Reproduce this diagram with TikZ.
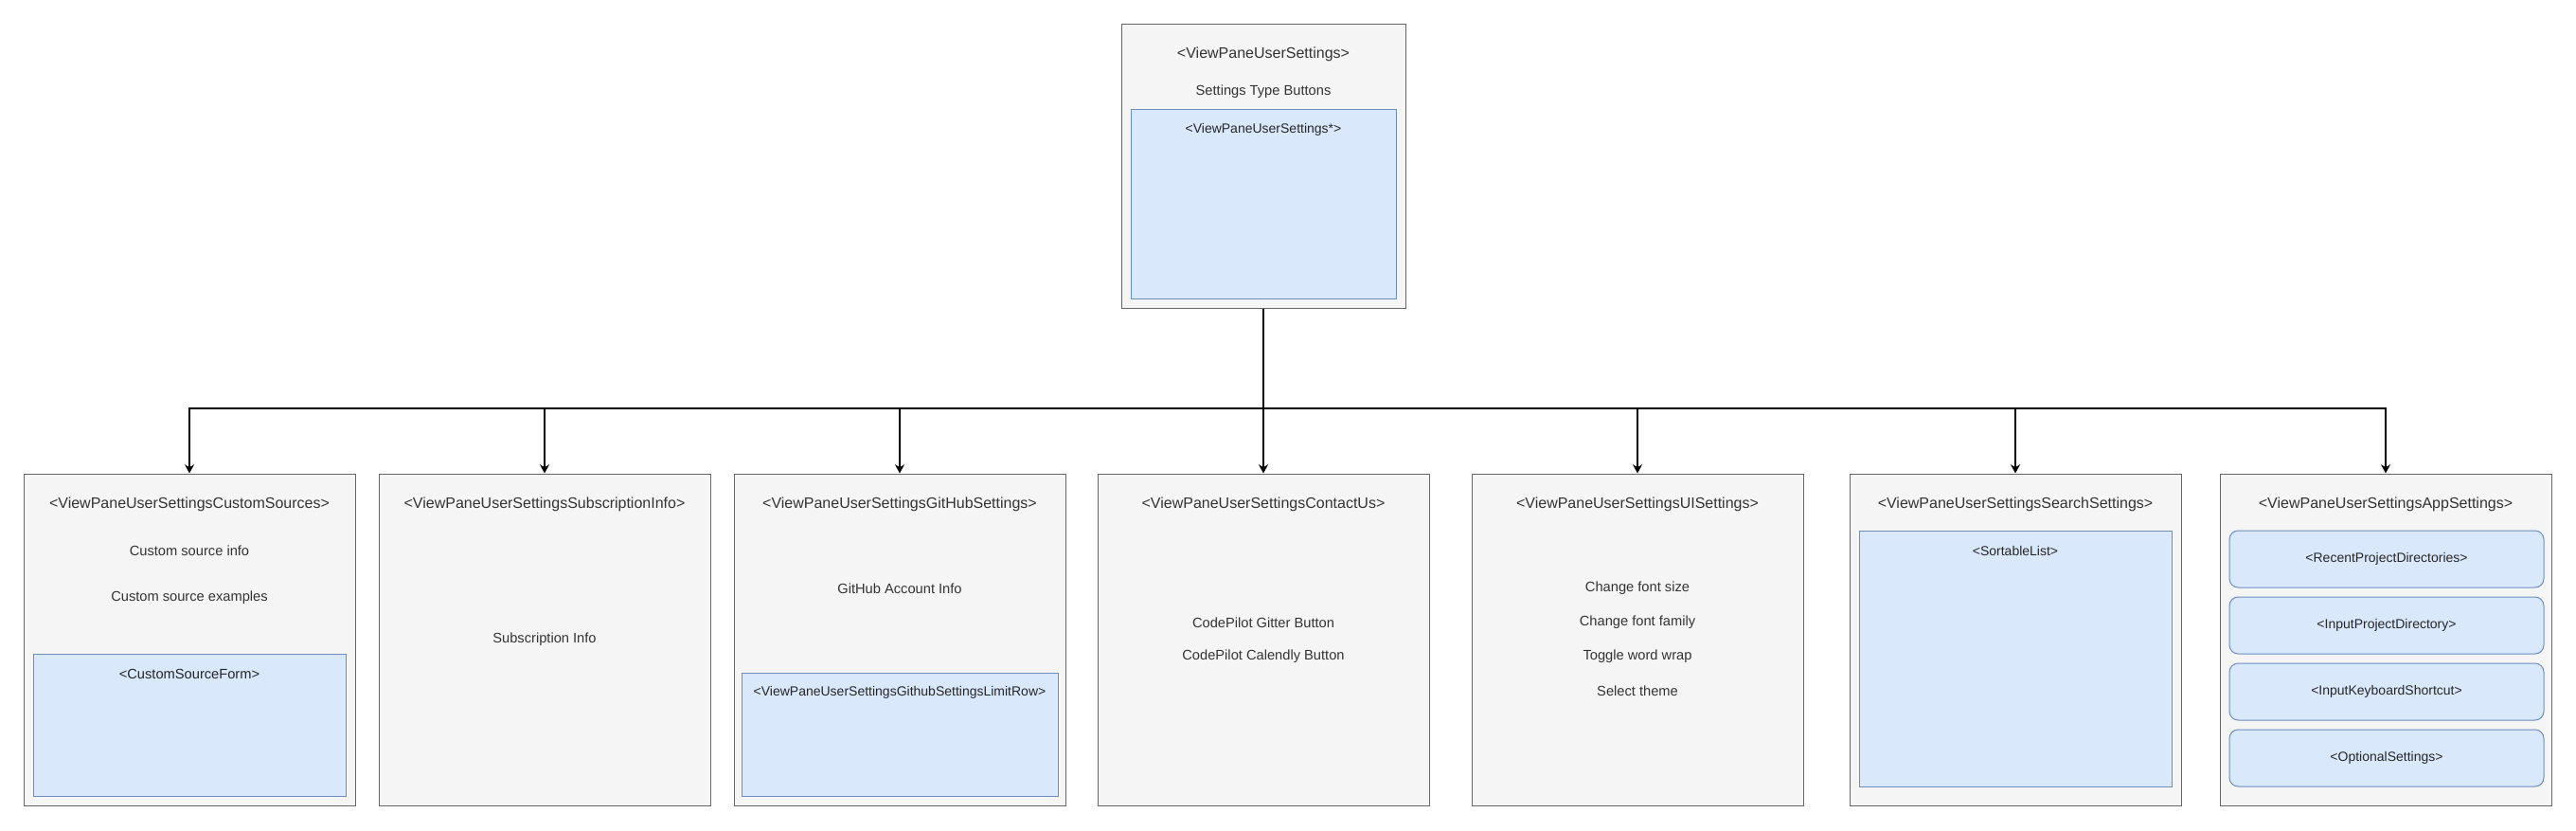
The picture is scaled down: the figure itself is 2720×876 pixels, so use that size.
\documentclass[tikz,border=0pt]{standalone}
\usepackage{fontspec}
\setmainfont{Liberation Sans}
\usetikzlibrary{positioning,arrows.meta}
\definecolor{paneFill}{HTML}{F5F5F5}
\definecolor{paneLine}{HTML}{666666}
\definecolor{paneText}{HTML}{333333}
\definecolor{partFill}{HTML}{DAE8FC}
\definecolor{partLine}{HTML}{6C8EBF}

\begin{document}
\begin{tikzpicture}[x=0.75pt,y=-0.75pt,
  pane/.style={draw=paneLine,fill=paneFill,line width=0.75pt,inner sep=0pt,minimum width=262.5pt,minimum height=262.5pt},
  part/.style={draw=partLine,fill=partFill,line width=0.75pt,inner sep=0pt},
  row/.style={part,rounded corners=7pt,minimum width=249pt,minimum height=45pt},
  headtxt/.style={text=paneText,font=\fontsize{12}{14}\selectfont,inner sep=0pt},
  itemtxt/.style={text=paneText,font=\fontsize{11}{13}\selectfont,inner sep=0pt},
  parttxt/.style={text=black!85,font=\fontsize{10.5}{12}\selectfont,inner sep=0pt},
  link/.style={line width=1.2pt,-{Stealth[length=7pt,width=7.5pt]}}]
\useasboundingbox (0,0) rectangle (2720,876);
% Top pane
\node[pane,minimum width=225pt,minimum height=225pt] (top) at (1334,175) {};
\node[part,minimum width=210pt,minimum height=150pt] (topPart) at (1334,215) {};
\node[headtxt] (topHead) at (1334,57) {<ViewPaneUserSettings>};
\node[itemtxt] (topItem) at (1334,97) {Settings Type Buttons};
\node[parttxt] (topPartTxt) at (1334,137) {<ViewPaneUserSettings*>};
% Child panes
\node[pane] (custom) at (200,675) {};
\node[pane] (subscr) at (575,675) {};
\node[pane] (github) at (950,675) {};
\node[pane] (contact) at (1334,675) {};
\node[pane] (ui) at (1729,675) {};
\node[pane] (search) at (2128,675) {};
\node[pane] (app) at (2519,675) {};
% Custom sources
\node[headtxt] (customHead) at (200,532) {<ViewPaneUserSettingsCustomSources>};
\node[itemtxt] (customInfo) at (200,581) {Custom source info};
\node[itemtxt] (customEx) at (200,631) {Custom source examples};
\node[part,minimum width=247.5pt,minimum height=112.5pt] (customForm) at (200,765) {};
\node[parttxt,font=\fontsize{11}{13}\selectfont] (customFormTxt) at (200,711) {<CustomSourceForm>};
% Subscription info
\node[headtxt] (subscrHead) at (575,532) {<ViewPaneUserSettingsSubscriptionInfo>};
\node[itemtxt] (subscrInfo) at (575,675) {Subscription Info};
% GitHub settings
\node[headtxt] (githubHead) at (950,532) {<ViewPaneUserSettingsGitHubSettings>};
\node[itemtxt] (githubInfo) at (950,621) {GitHub Account Info};
\node[part,minimum width=250.5pt,minimum height=97.5pt] (githubRow) at (950,775) {};
\node[parttxt] (githubRowTxt) at (950,731) {<ViewPaneUserSettingsGithubSettingsLimitRow>};
% Contact us
\node[headtxt] (contactHead) at (1334,532) {<ViewPaneUserSettingsContactUs>};
\node[itemtxt] (contactGitter) at (1334,657) {CodePilot Gitter Button};
\node[itemtxt] (contactCal) at (1334,693) {CodePilot Calendly Button};
% UI settings
\node[headtxt] (uiHead) at (1729,532) {<ViewPaneUserSettingsUISettings>};
\node[itemtxt] (uiSize) at (1729,621) {Change font size};
\node[itemtxt] (uiFamily) at (1729,657) {Change font family};
\node[itemtxt] (uiWrap) at (1729,693) {Toggle word wrap};
\node[itemtxt] (uiTheme) at (1729,729) {Select theme};
% Search settings
\node[headtxt] (searchHead) at (2128,532) {<ViewPaneUserSettingsSearchSettings>};
\node[part,minimum width=247.5pt,minimum height=202.5pt] (searchList) at (2128,695) {};
\node[parttxt] (searchListTxt) at (2128,581) {<SortableList>};
% App settings
\node[headtxt] (appHead) at (2519,532) {<ViewPaneUserSettingsAppSettings>};
\node[row] (appRecent) at (2520,590) {};
\node[row] (appDir) at (2520,660) {};
\node[row] (appKeys) at (2520,730) {};
\node[row] (appOpt) at (2520,800) {};
\node[parttxt] at (appRecent) {<RecentProjectDirectories>};
\node[parttxt] at (appDir) {<InputProjectDirectory>};
\node[parttxt] at (appKeys) {<InputKeyboardShortcut>};
\node[parttxt] at (appOpt) {<OptionalSettings>};
% Connectors
\coordinate (bus) at (1334,431);
\draw[link] (top.south) -- (bus) -| (custom.north);
\draw[link] (top.south) -- (bus) -| (subscr.north);
\draw[link] (top.south) -- (bus) -| (github.north);
\draw[link] (top.south) -- (contact.north);
\draw[link] (top.south) -- (bus) -| (ui.north);
\draw[link] (top.south) -- (bus) -| (search.north);
\draw[link] (top.south) -- (bus) -| (app.north);
\end{tikzpicture}
\end{document}
